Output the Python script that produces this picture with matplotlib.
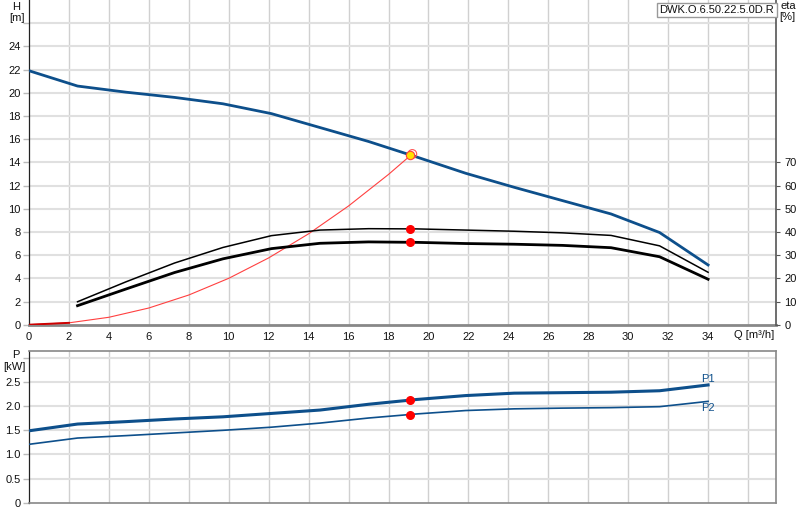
import matplotlib
matplotlib.use("Agg")
import matplotlib.pyplot as plt

plt.rcParams["font.family"] = ["Liberation Sans", "DejaVu Sans"]

# ---- data ----
q = [0, 2.43, 4.86, 7.29, 9.71, 12.14, 14.57, 17.0, 19.43, 21.86, 24.29, 26.71, 29.14, 31.57, 34.0]
head = [21.9, 20.58, 20.05, 19.6, 19.05, 18.2, 17.0, 15.8, 14.45, 13.06, 11.85, 10.7, 9.55, 7.95, 5.15]
q_eta = [2.43, 4.86, 7.29, 9.71, 12.14, 14.57, 17.0, 19.43, 21.86, 24.29, 26.71, 29.14, 31.57, 34.0]
eta_pump = [9.9, 18.5, 26.6, 33.3, 38.4, 40.8, 41.4, 41.3, 40.8, 40.3, 39.6, 38.5, 34.0, 22.6]
eta_total = [8.2, 15.4, 22.5, 28.4, 32.8, 35.1, 35.7, 35.5, 35.0, 34.7, 34.2, 33.2, 29.3, 19.6]
p1 = [1.49, 1.63, 1.68, 1.735, 1.78, 1.85, 1.92, 2.04, 2.14, 2.22, 2.27, 2.28, 2.29, 2.32, 2.44]
p2 = [1.21, 1.34, 1.39, 1.445, 1.50, 1.565, 1.65, 1.755, 1.84, 1.91, 1.945, 1.96, 1.97, 1.99, 2.10]
q_sys = [0, 2, 4, 6, 8, 10, 12, 14, 16, 18, 19.07]
h_sys = [0, 0.16, 0.64, 1.44, 2.56, 4.0, 5.76, 7.84, 10.24, 12.96, 14.55]
duty_q = 19.07
duty_h = 14.62
duty_eta = [41.4, 35.5]
duty_p = [2.12, 1.82]
x_ticks = list(range(0, 35, 2))
h_ticks = list(range(0, 25, 2))
eta_ticks = list(range(0, 71, 10))
p_ticks = [0, 0.5, 1.0, 1.5, 2.0, 2.5]
title_text = "DWK.O.6.50.22.5.0D.R"

BLUE = "#0d4f8b"
GRID_H = "#e0e0e0"
GRID_V = "#d0d0d0"
TXT = "#111111"
FS = 8

fig = plt.figure(figsize=(8, 5.2), dpi=100)
W, H = 800, 520

def ax_rect(l, r, t, b):
    return [l / W, 1 - b / H, (r - l) / W, (b - t) / H]

ax = fig.add_axes(ax_rect(29, 776, 0, 324.7))
ax2 = ax.twinx()
axp = fig.add_axes(ax_rect(29, 776, 350.7, 502.7))

xmax = 37.4
for a in (ax, axp):
    a.set_xlim(0, xmax)
    for gx in range(2, 37, 2):
        a.axvline(gx, color=GRID_V, lw=1.0, zorder=0)
    a.set_axisbelow(True)

ax.set_ylim(0, 28)
for gy in range(2, 28, 2):
    ax.axhline(gy, color=GRID_H, lw=1.5, zorder=0)
ax.set_yticks(h_ticks + [26])
ax.set_yticklabels([str(t) for t in h_ticks] + [""])
ax.set_xticks(x_ticks)
ax.set_xticklabels([str(t) for t in x_ticks])
ax.tick_params(axis="y", labelsize=FS, colors="#bbbbbb", labelcolor=TXT, length=4, width=1.0, pad=2)
ax.tick_params(axis="x", labelsize=FS, labelcolor=TXT, length=0, pad=5)

ax2.set_ylim(0, 140)
ax2.set_yticks(eta_ticks)
ax2.set_yticklabels([str(t) for t in eta_ticks])
ax2.tick_params(axis="y", labelsize=FS, colors="#555555", labelcolor=TXT, length=3, width=0.8, pad=3)

ax.spines["top"].set_visible(False)
ax2.spines["top"].set_visible(False)
ax.spines["right"].set_visible(False)
ax.spines["left"].set_color("#222222")
ax.spines["left"].set_linewidth(0.9)
ax.spines["bottom"].set_color("#888888")
ax.spines["bottom"].set_linewidth(2.0)
ax2.spines["right"].set_color("#555555")
ax2.spines["right"].set_linewidth(1.2)
ax2.spines["bottom"].set_visible(False)
ax2.spines["left"].set_visible(False)

# curves
ax.plot(q_sys, h_sys, color="#ff4040", lw=0.8, zorder=3)
ax.plot(q_sys[:2], h_sys[:2], color="#cc0000", lw=1.4, zorder=3)
ax.plot(q, head, color=BLUE, lw=2.0, zorder=4)
ax2.plot(q_eta, eta_pump, color="black", lw=1.1, zorder=4)
ax2.plot(q_eta, eta_total, color="black", lw=2.0, zorder=4)
ax.scatter([duty_q + 0.12], [duty_h + 0.1], s=40, facecolor="none", edgecolor="#ff5050", lw=0.8, zorder=6)
ax.scatter([duty_q], [duty_h], s=36, facecolor="#ffe000", edgecolor="#ff4040", lw=0.8, zorder=7)
ax2.scatter([duty_q, duty_q], duty_eta, s=30, color="red", zorder=6)

fig.text(16 / W, 1 - 7 / H, "H", ha="center", va="center", fontsize=FS, color=TXT)
fig.text(17 / W, 1 - 18 / H, "[m]", ha="center", va="center", fontsize=FS, color=TXT)
fig.text(788 / W, 1 - 6 / H, "eta", ha="center", va="center", fontsize=FS, color=TXT)
fig.text(787 / W, 1 - 17 / H, "[%]", ha="center", va="center", fontsize=FS, color=TXT)
fig.text(754 / W, 1 - 335 / H, "Q [m³/h]", ha="center", va="center", fontsize=FS, color=TXT)
fig.text(717 / W, 1 - 10 / H, title_text, ha="center", va="center", fontsize=FS, color=TXT,
         bbox=dict(boxstyle="square,pad=0.2", facecolor="white", edgecolor="#999999", lw=1.0))

# power plot
axp.set_ylim(0, 3.15)
for gy in [0.5, 1.0, 1.5, 2.0, 2.5, 3.0]:
    axp.axhline(gy, color=GRID_H, lw=1.5, zorder=0)
axp.set_yticks(p_ticks + [3.0])
axp.set_yticklabels(["0", "0.5", "1.0", "1.5", "2.0", "2.5", ""])
axp.set_xticks(x_ticks)
axp.tick_params(axis="x", length=0, labelbottom=False)
axp.tick_params(axis="y", labelsize=FS, colors="#bbbbbb", labelcolor=TXT, length=4, width=1.0, pad=2)
for s in axp.spines.values():
    s.set_color("#888888")
    s.set_linewidth(1.2)
axp.spines["left"].set_color("#222222")
axp.spines["left"].set_linewidth(0.9)
axp.plot(q, p1, color=BLUE, lw=2.2, zorder=4)
axp.plot(q, p2, color=BLUE, lw=1.2, zorder=4)
axp.scatter([duty_q, duty_q], duty_p, s=30, color="red", zorder=6)
axp.text(34.0, 2.47, "P1", ha="center", va="bottom", fontsize=FS, color=BLUE)
axp.text(34.0, 2.07, "P2", ha="center", va="top", fontsize=FS, color=BLUE)
fig.text(16 / W, 1 - 355 / H, "P", ha="center", va="center", fontsize=FS, color=TXT)
fig.text(14 / W, 1 - 367 / H, "[kW]", ha="center", va="center", fontsize=FS, color=TXT)

fig.savefig("out.png", dpi=100)
